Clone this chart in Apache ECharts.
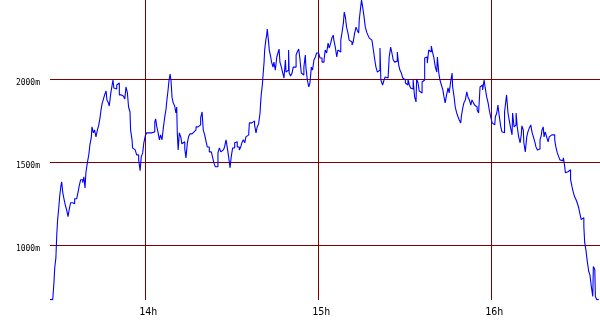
<!DOCTYPE html>
<html>
<head>
<meta charset="utf-8">
<script src="https://cdn.jsdelivr.net/npm/echarts@6/dist/echarts.min.js"></script>
<style>html,body{margin:0;padding:0;background:#fff}#c{width:600px;height:330px}</style>
</head>
<body>
<div id="c"></div>
<script>
// minutes after 13:00
const timeMin = [26.95,27.9,28.0,28.3,28.6,29.0,29.3,29.6,30.0,30.3,30.7,31.0,31.4,31.8,32.3,32.7,33.2,33.6,34.1,34.8,35.5,36.2,36.7,37.1,37.6,38.3,38.7,39.1,39.4,39.9,40.4,40.8,41.3,41.5,42.0,42.4,42.9,43.4,43.8,44.3,44.6,45.0,45.4,45.9,46.4,46.7,47.2,47.5,48.0,48.5,48.8,49.1,49.6,50.1,50.5,51.0,51.7,52.4,52.9,53.3,53.8,54.2,54.7,54.9,55.4,55.6,56.1,56.5,57.0,57.7,58.2,58.6,59.1,59.5,60.0,60.5,61.2,61.6,62.3,62.8,63.3,63.6,64.0,64.4,64.9,65.3,65.8,66.3,66.7,67.2,67.5,67.9,68.2,68.6,68.9,69.3,69.7,70.2,70.6,70.9,71.1,71.4,71.8,72.3,72.7,73.2,73.7,74.1,74.6,75.0,75.5,76.2,76.9,77.6,78.3,78.7,79.2,79.7,80.1,80.6,81.1,81.5,82.2,82.9,83.4,83.8,84.3,84.8,85.2,85.7,86.2,86.6,87.1,87.5,88.0,88.4,88.9,89.4,89.8,90.3,91.0,91.5,91.9,92.6,93.1,93.5,94.0,94.5,94.9,95.4,95.9,96.1,96.6,97.0,97.5,97.9,98.4,98.8,99.3,99.8,100.0,100.2,100.6,100.9,101.2,101.4,101.8,102.1,102.3,102.7,103.0,103.5,103.8,104.3,104.6,105.1,105.6,106.0,106.4,106.7,107.2,107.6,108.1,108.6,108.8,109.3,109.7,109.9,110.4,110.9,111.3,111.8,112.3,112.7,113.2,113.6,114.1,114.6,115.0,115.5,115.7,116.2,116.7,117.1,117.6,118.0,118.5,119.0,119.4,120.1,120.6,121.3,122.0,122.4,122.9,123.4,123.8,124.3,124.7,125.2,125.4,125.9,126.4,126.8,127.3,127.8,128.2,128.7,129.0,129.4,129.8,130.3,130.7,131.2,131.7,132.1,132.6,133.1,133.5,134.0,134.2,134.7,135.0,135.4,135.8,136.3,136.8,137.2,137.7,138.2,138.6,139.1,139.6,140.0,140.5,140.9,141.4,141.7,142.3,142.8,143.2,143.7,144.2,144.6,145.1,145.6,146.0,146.5,147.0,147.4,147.9,148.3,148.8,149.3,149.7,150.2,150.6,151.1,151.6,152.0,152.5,152.9,153.4,153.9,154.1,154.6,155.0,155.5,156.0,156.4,156.9,157.4,157.8,158.3,158.7,159.2,159.7,160.1,160.6,161.1,161.3,161.8,162.2,162.7,163.2,163.6,164.0,164.5,165.0,165.4,165.9,166.4,166.6,167.1,167.5,168.0,168.5,168.9,169.4,169.6,170.1,170.5,171.0,171.5,171.9,172.4,172.9,173.3,173.8,174.2,174.7,175.1,175.6,176.1,176.5,177.0,177.5,177.9,178.4,178.9,179.3,179.8,180.3,180.7,181.2,181.4,181.9,182.3,182.8,183.3,183.7,184.2,184.6,185.1,185.3,185.8,186.2,186.7,187.2,187.4,187.9,188.3,188.6,189.0,189.5,190.0,190.4,190.6,191.1,191.3,191.8,192.3,192.7,193.2,193.7,194.1,194.6,195.1,195.5,196.0,196.4,196.9,197.3,197.6,198.0,198.3,198.7,199.2,199.7,200.1,200.6,201.0,201.5,202.0,202.4,202.9,203.4,203.8,204.3,204.8,205.0,205.4,205.7,206.1,206.6,207.0,207.5,208.0,208.4,208.9,209.4,209.8,210.3,210.8,211.2,211.7,212.1,212.4,212.8,213.3,213.8,214.2,214.7,215.2,215.4,215.9,216.1,216.6,217.3];
// altitude in metres
const altitude = [670,670,695,767,864,924,1062,1153,1225,1291,1352,1382,1315,1279,1237,1213,1171,1213,1255,1249,1279,1291,1321,1358,1394,1376,1412,1345,1436,1496,1544,1605,1653,1713,1677,1695,1653,1695,1719,1767,1809,1852,1876,1906,1930,1876,1858,1839,1912,1966,1996,1948,1942,1966,1978,1906,1900,1894,1882,1954,1918,1833,1803,1695,1635,1586,1574,1568,1544,1514,1448,1532,1556,1617,1659,1677,1683,1677,1689,1683,1743,1761,1713,1683,1635,1665,1635,1713,1767,1821,1876,1936,1990,2032,1996,1888,1858,1839,1797,1833,1677,1574,1677,1653,1611,1623,1580,1526,1617,1653,1671,1683,1695,1713,1719,1725,1767,1803,1695,1665,1623,1592,1562,1556,1526,1496,1472,1472,1556,1586,1562,1574,1562,1592,1635,1592,1532,1466,1532,1586,1617,1623,1592,1574,1592,1617,1635,1617,1653,1665,1683,1737,1737,1743,1749,1725,1677,1713,1731,1797,1858,1906,1966,2038,2104,2177,2237,2267,2303,2237,2177,2135,2104,2074,2104,2056,2135,2159,2183,2104,2074,2044,2008,2117,2044,2056,2177,2038,2020,2038,2074,2074,2147,2165,2183,2129,2038,2026,2074,2147,2074,1996,1954,1978,2074,2056,2117,2135,2159,2147,2129,2104,2117,2177,2159,2219,2189,2219,2249,2267,2237,2195,2135,2177,2165,2237,2279,2339,2406,2376,2315,2279,2237,2225,2207,2225,2279,2315,2297,2279,2358,2436,2478,2436,2388,2315,2285,2267,2249,2237,2225,2177,2117,2074,2044,2056,2189,1996,1966,1996,2014,2008,1996,2135,2195,2153,2117,2104,2110,2165,2086,2056,2038,2008,1996,1978,1966,2002,1966,1948,1942,1996,1894,1864,2002,1978,1930,1918,1984,1996,2129,2135,2098,2177,2165,2201,2159,2129,2074,2044,2135,2038,1996,1966,1936,1894,1858,1906,1948,1918,1984,2038,1954,1894,1833,1797,1773,1755,1737,1773,1827,1858,1876,1924,1894,1876,1845,1876,1858,1845,1833,1815,1797,1954,1966,1936,1996,1948,1894,1858,1815,1773,1737,1725,1713,1773,1797,1845,1773,1713,1683,1677,1803,1815,1906,1797,1755,1707,1665,1797,1713,1725,1797,1713,1653,1617,1665,1719,1695,1617,1562,1653,1683,1707,1725,1683,1653,1623,1592,1574,1580,1635,1659,1695,1713,1653,1683,1653,1623,1653,1665,1653,1665,1635,1592,1556,1532,1514,1508,1502,1526,1484,1436,1442,1436,1454,1394,1352,1321,1291,1273,1255,1225,1183,1153,1165,1111,1014,972,900,840,821,749,689,870,852,689,670,670];
const xTicks = [14, 15, 16];          // hours
const yTicks = [1000, 1500, 2000];    // metres

const seriesData = timeMin.map((m, i) => [13 + m / 60, altitude[i]]);
const gridColor = '#800000';

const chart = echarts.init(document.getElementById('c'), null, {renderer: 'canvas'});
chart.setOption({
  animation: false,
  backgroundColor: '#ffffff',
  grid: {left: 50, right: 0, top: 0, bottom: 30, containLabel: false},
  xAxis: {
    type: 'value',
    min: 13.4492, max: 16.6284,
    splitNumber: 3,
    axisLine: {show: false},
    axisTick: {show: false},
    splitLine: {show: true, showMinLine: false, showMaxLine: false, lineStyle: {color: gridColor, width: 1}},
    axisLabel: {
      showMinLabel: false, showMaxLabel: false,
      margin: 7,
      color: '#000', fontFamily: 'DejaVu Sans Mono', fontSize: 10,
      padding: [0, 0, 0, 6],
      formatter: v => xTicks.includes(Math.round(v * 1000) / 1000) ? Math.round(v) + 'h' : ''
    }
  },
  yAxis: {
    type: 'value',
    min: 668, max: 2479,
    splitNumber: 4,
    axisLine: {show: false},
    axisTick: {show: false},
    splitLine: {show: true, showMinLine: false, showMaxLine: false, lineStyle: {color: gridColor, width: 1}},
    axisLabel: {
      showMinLabel: false, showMaxLabel: false,
      margin: 10,
      verticalAlign: 'top',
      color: '#000', fontFamily: 'DejaVu Sans Mono', fontSize: 8,
      formatter: v => yTicks.includes(Math.round(v)) ? Math.round(v) + 'm' : ''
    }
  },
  series: [{
    type: 'line',
    data: seriesData,
    showSymbol: false,
    symbol: 'none',
    step: 'end',
    clip: true,
    lineStyle: {color: '#0000ff', width: 1.1},
    emphasis: {disabled: true}
  }]
});
</script>
</body>
</html>
